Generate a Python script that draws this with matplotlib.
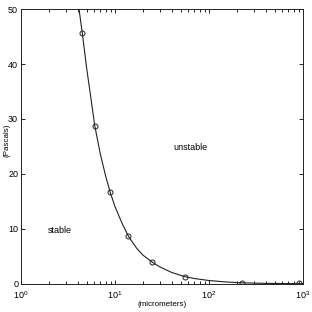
import numpy as np
import matplotlib
matplotlib.use("Agg")
import matplotlib.pyplot as plt

# font close to the Helvetica of the original
plt.rcParams['font.family'] = ['Liberation Sans', 'DejaVu Sans']
plt.rcParams['mathtext.default'] = 'regular'

# measured points (diameter in micrometers, pressure in Pascals)
diam_pts = [4.49, 6.12, 8.85, 13.8, 24.6, 55.0, 223.0, 906.0]
pres_pts = [45.6, 28.7, 16.7, 8.7, 4.0, 1.33, 0.2, 0.1]

# curve
diam_curve = [4.0, 4.5, 5.0, 5.5, 6.1, 7.0, 8.0, 8.9, 10.0, 12.0, 14.0,
              17.0, 20.0, 25.0, 30.0, 40.0, 55.0, 70.0, 100.0, 150.0,
              223.0, 400.0, 1000.0]
pres_curve = [52.0, 45.6, 39.3, 34.3, 28.8, 23.6, 19.5, 16.7, 14.1, 10.9,
              8.6, 6.5, 5.2, 3.95, 3.1, 2.1, 1.33, 0.98, 0.62, 0.36,
              0.2, 0.1, 0.04]

fig = plt.figure(figsize=(3.12, 3.12), dpi=100)
ax = fig.add_axes([0.067, 0.09, 0.904, 0.881])

ax.plot(diam_curve, pres_curve, color='#222222', linewidth=0.8)
ax.plot(diam_pts, pres_pts, linestyle='none', marker='o', markersize=3.6,
        markerfacecolor='none', markeredgecolor='#222222', markeredgewidth=0.7)

ax.set_xscale('log')
ax.set_xlim(1, 1000)
ax.set_ylim(0, 50)
ax.set_yticks([0, 10, 20, 30, 40, 50])

ax.tick_params(which='both', direction='in', top=True, right=True,
               labelsize=6.5, width=0.6, pad=2)
ax.tick_params(axis='x', which='both', pad=4)
ax.tick_params(which='major', length=3)
ax.tick_params(which='minor', length=2)
for s in ax.spines.values():
    s.set_linewidth(0.7)
    s.set_color('#222222')

ax.set_xlabel('(micrometers)', fontsize=5.8, va='center')
ax.set_ylabel('(Pascals)', fontsize=5.8, va='center')
ax.xaxis.set_label_coords(0.502, -0.076)
ax.yaxis.set_label_coords(-0.051, 0.524)

ax.text(2.6, 9.8, 'stable', fontsize=6.5, ha='center', va='center')
ax.text(63, 24.9, 'unstable', fontsize=6.5, ha='center', va='center')

fig.savefig('out.png', dpi=100)
